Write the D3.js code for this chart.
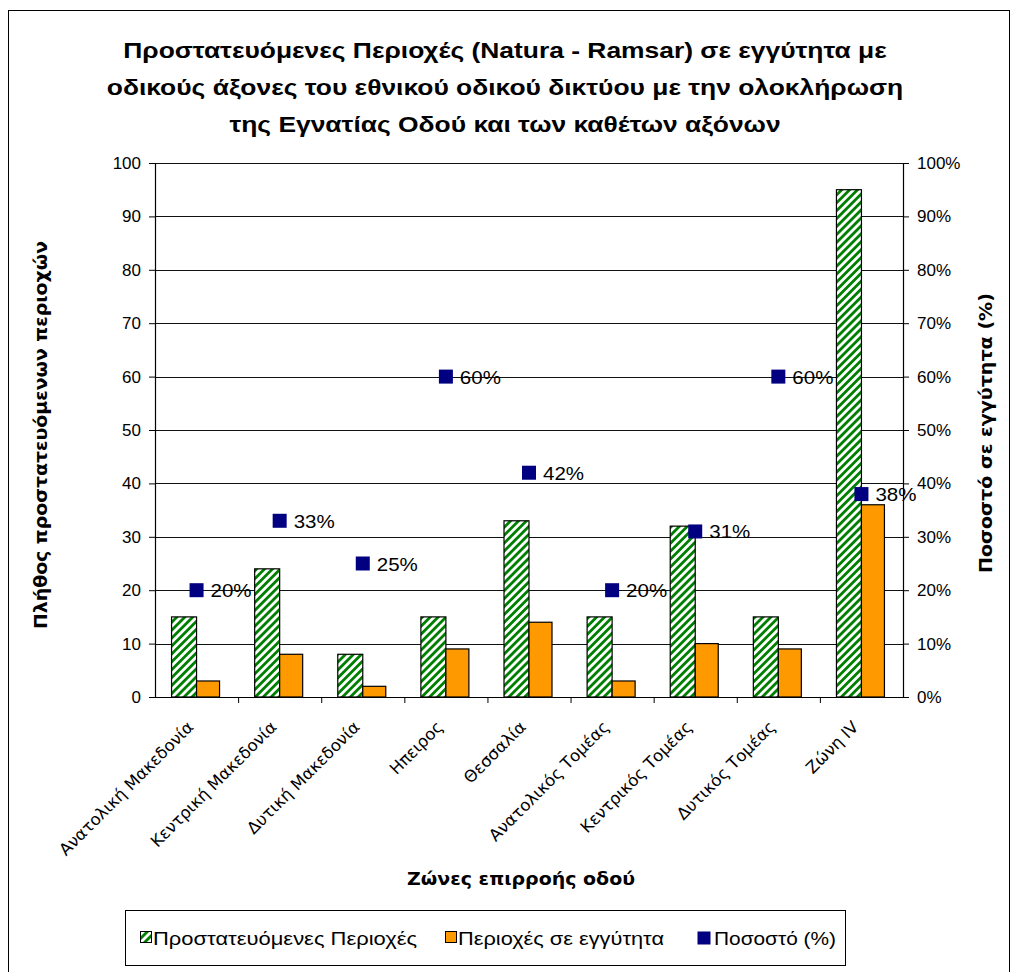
<!DOCTYPE html>
<html>
<head>
<meta charset="utf-8">
<script src="https://cdn.jsdelivr.net/npm/d3@7"></script>
<style>
  body { margin: 0; background: #fff; }
  svg { display: block; font-family: "Liberation Sans", Arial, sans-serif; }
</style>
</head>
<body>
<svg id="chart" width="1016" height="972"></svg>
<script>
// zones of road influence
const zones = ["Ανατολική Μακεδονία", "Κεντρική Μακεδονία", "Δυτική Μακεδονία", "Ηπειρος",
  "Θεσσαλία", "Ανατολικός Τομέας", "Κεντρικός Τομέας", "Δυτικός Τομέας", "Ζώνη IV"];
const protectedAreas = [15, 24, 8, 15, 33, 15, 32, 15, 95];
const nearAreas = [3, 8, 2, 9, 14, 3, 10, 9, 36];
const percent = [20, 33, 25, 60, 42, 20, 31, 60, 38];
const leftTicks = [0, 10, 20, 30, 40, 50, 60, 70, 80, 90, 100];
const rightTicks = [0, 10, 20, 30, 40, 50, 60, 70, 80, 90, 100];
const titleLines = ["Προστατευόμενες Περιοχές (Natura - Ramsar) σε εγγύτητα με",
  "οδικούς άξονες του εθνικού οδικού δικτύου με την ολοκλήρωση",
  "της Εγνατίας Οδού και των καθέτων αξόνων"];
const legendLabels = ["Προστατευόμενες Περιοχές", "Περιοχές σε εγγύτητα", "Ποσοστό (%)"];

const svg = d3.select("#chart");
const m = {left: 155, right: 903, top: 163, bottom: 697};

// widen text a little, the original renders wider than Liberation Sans
function stretch(sel, f) {
  sel.each(function() {
    const w = this.getComputedTextLength();
    d3.select(this).attr("textLength", w * f).attr("lengthAdjust", "spacingAndGlyphs");
  });
}

// hatch pattern for green bars
const defs = svg.append("defs");
const pat = defs.append("pattern")
    .attr("id", "hatch")
    .attr("patternUnits", "userSpaceOnUse")
    .attr("width", 5.6).attr("height", 5.6)
    .attr("patternTransform", "rotate(45)");
pat.append("rect").attr("width", 5.6).attr("height", 5.6).attr("fill", "#fff");
pat.append("rect").attr("width", 2.8).attr("height", 5.6).attr("fill", "#008000");

// outer frame
svg.append("rect")
    .attr("x", 8.5).attr("y", 10.5)
    .attr("width", 1001).attr("height", 975)
    .attr("fill", "none").attr("stroke", "#000");

// title
const title = svg.append("g").selectAll("text")
    .data(titleLines).enter().append("text")
    .attr("x", 505)
    .attr("y", (d, i) => 58 + i * 37)
    .attr("text-anchor", "middle")
    .attr("font-size", 22).attr("font-weight", "bold")
    .text(d => d);
stretch(title, 1.2);

const x = d3.scaleBand().domain(zones).range([m.left, m.right]);
const yL = d3.scaleLinear().domain([0, 100]).range([m.bottom, m.top]);
const yR = d3.scaleLinear().domain([0, 100]).range([m.bottom, m.top]);

// gridlines
svg.append("g").selectAll("line")
    .data(leftTicks.slice(1)).enter().append("line")
    .attr("x1", m.left).attr("x2", m.right)
    .attr("y1", d => Math.round(yL(d)) + 0.5).attr("y2", d => Math.round(yL(d)) + 0.5)
    .attr("stroke", "#111").attr("stroke-width", 1);

// bars
const bw = 25;
svg.append("g").selectAll("rect")
    .data(protectedAreas).enter().append("rect")
    .attr("x", (d, i) => x(zones[i]) + x.bandwidth() / 2 - bw)
    .attr("y", d => yL(d))
    .attr("width", bw)
    .attr("height", d => yL(0) - yL(d))
    .attr("fill", "url(#hatch)")
    .attr("stroke", "#000").attr("stroke-width", 1.2);

svg.append("g").selectAll("rect")
    .data(nearAreas).enter().append("rect")
    .attr("x", (d, i) => x(zones[i]) + x.bandwidth() / 2)
    .attr("y", d => yL(d))
    .attr("width", bw - 2)
    .attr("height", d => yL(0) - yL(d))
    .attr("fill", "#FF9900")
    .attr("stroke", "#000").attr("stroke-width", 1.2);

// axes
const leftAxis = d3.axisLeft(yL).tickValues(leftTicks).tickSize(6).tickPadding(8);
const gl = svg.append("g").attr("transform", `translate(${m.left},0)`).call(leftAxis);
const rightAxis = d3.axisRight(yR).tickValues(rightTicks).tickSize(6).tickPadding(8)
    .tickFormat(d => d + "%");
const gr = svg.append("g").attr("transform", `translate(${m.right},0)`).call(rightAxis);
const bottomAxis = d3.axisBottom(x).tickSize(0).tickFormat("");
const gb = svg.append("g").attr("transform", `translate(0,${m.bottom})`).call(bottomAxis);
// tick marks between categories
gb.selectAll(".sep")
    .data(zones.slice(1)).enter().append("line")
    .attr("x1", d => x(d) + 0.5).attr("x2", d => x(d) + 0.5)
    .attr("y1", 0).attr("y2", 6).attr("stroke", "#000");

[gl, gr, gb].forEach(g => {
  g.select(".domain").attr("stroke", "#000").attr("stroke-width", 1.2);
  g.selectAll("text").attr("font-size", 17).attr("fill", "#000")
      .attr("font-family", "Liberation Sans, Arial, sans-serif");
});

// rotated category labels
svg.append("g").selectAll("text")
    .data(zones).enter().append("text")
    .attr("transform", d => `translate(${x(d) + x.bandwidth() / 2 - 2},${m.bottom + 31}) rotate(-45)`)
    .attr("text-anchor", "end")
    .attr("font-size", 16.5)
    .attr("font-family", "DejaVu Sans, sans-serif")
    .text(d => d);

// percentage markers
const pts = svg.append("g");
pts.selectAll("rect")
    .data(percent).enter().append("rect")
    .attr("x", (d, i) => x(zones[i]) + x.bandwidth() / 2 - 7)
    .attr("y", d => yR(d) - 7)
    .attr("width", 14).attr("height", 14)
    .attr("fill", "#000080");
const pctText = pts.selectAll("text")
    .data(percent).enter().append("text")
    .attr("x", (d, i) => x(zones[i]) + x.bandwidth() / 2 + 14)
    .attr("y", d => yR(d) + 7)
    .attr("font-size", 19)
    .text(d => d + "%");
stretch(pctText, 1.08);

// axis titles
svg.append("text")
    .attr("transform", `translate(47,435) rotate(-90)`)
    .attr("text-anchor", "middle")
    .attr("font-size", 18).attr("font-weight", "bold")
    .attr("font-family", "DejaVu Sans, sans-serif")
    .attr("textLength", 388).attr("lengthAdjust", "spacingAndGlyphs")
    .text("Πλήθος προστατευόμενων περιοχών");
svg.append("text")
    .attr("transform", `translate(992,433) rotate(-90)`)
    .attr("text-anchor", "middle")
    .attr("font-size", 18).attr("font-weight", "bold")
    .attr("font-family", "DejaVu Sans, sans-serif")
    .attr("textLength", 280).attr("lengthAdjust", "spacingAndGlyphs")
    .text("Ποσοστό σε εγγύτητα (%)");
svg.append("text")
    .attr("x", 521).attr("y", 885)
    .attr("text-anchor", "middle")
    .attr("font-size", 18).attr("font-weight", "bold")
    .attr("font-family", "DejaVu Sans, sans-serif")
    .attr("textLength", 228).attr("lengthAdjust", "spacingAndGlyphs")
    .text("Ζώνες επιρροής οδού");

// legend
const legend = svg.append("g");
legend.append("rect")
    .attr("x", 125.5).attr("y", 910.5).attr("width", 720).attr("height", 55)
    .attr("fill", "#fff").attr("stroke", "#000");
const legFill = ["url(#hatch)", "#FF9900", "#000080"];
const legX = [140, 445, 697];
const legW = [264, 206, 122];
const li = legend.selectAll("g.item").data(legendLabels).enter().append("g").attr("class", "item");
li.append("rect")
    .attr("x", (d, i) => legX[i] + 0.5).attr("y", 931.5)
    .attr("width", (d, i) => i < 2 ? 11 : 13).attr("height", (d, i) => i < 2 ? 11 : 13)
    .attr("fill", (d, i) => legFill[i])
    .attr("stroke", (d, i) => i < 2 ? "#000" : "none");
li.append("text")
    .attr("x", (d, i) => legX[i] + (i < 2 ? 13 : 17)).attr("y", 945)
    .attr("font-size", 19)
    .attr("textLength", (d, i) => legW[i]).attr("lengthAdjust", "spacingAndGlyphs")
    .text(d => d);
</script>
</body>
</html>
